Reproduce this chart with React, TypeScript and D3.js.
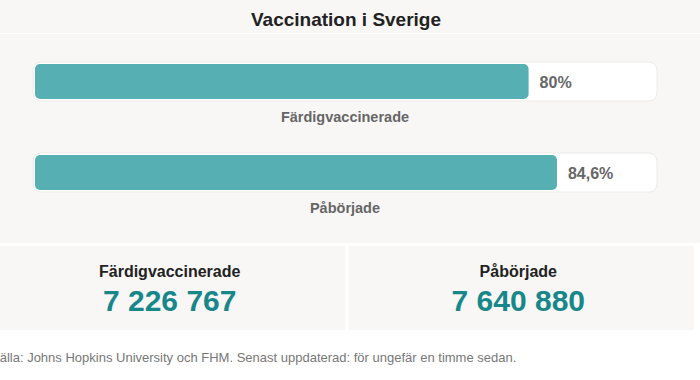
import React from "react";
import * as d3 from "d3";

const categories = ["Färdigvaccinerade", "Påbörjade"];
const percentValues = [80, 84.6];
const percentLabels = ["80%", "84,6%"];
const countValues = [7226767, 7640880];
const title = "Vaccination i Sverige";
const sourceText = "Källa: Johns Hopkins University och FHM. Senast uppdaterad: för ungefär en timme sedan.";

const W = 700;
const H = 380;
const FONT = "'Liberation Sans', Arial, Helvetica, sans-serif";

export default function App() {
  const x = d3.scaleLinear().domain([0, 100]).range([35, 652]);
  const rowY = d3.scaleOrdinal<string, number>().domain(categories).range([62, 153]);
  const boxX = d3.scaleBand().domain(categories).range([0, 694]).paddingInner(0.009);
  const fmt = (v: number) => d3.format(",")(v).replace(/,/g, " ");

  return (
    <svg width={W} height={H} style={{ position: "absolute", left: 0, top: 0, display: "block" }} fontFamily={FONT}>
      <rect x={0} y={0} width={W} height={H} fill="#ffffff" />
      <rect x={0} y={0} width={W} height={33} fill="#f8f7f5" />
      <text x={346} y={26} textAnchor="middle" fontSize={19} fontWeight="bold" fill="#222">{title}</text>
      <rect x={0} y={34} width={W} height={209} fill="#f8f7f6" />
      {categories.map((c, i) => {
        const y0 = rowY(c);
        return (
          <g key={c}>
            <rect x={33} y={y0} width={624} height={39} rx={8} fill="#ffffff" stroke="#ecebe9" strokeWidth={1} />
            <rect x={x(0)} y={y0 + 2} width={x(percentValues[i]) - x(0)} height={35} rx={5} fill="#56b0b3" />
            <text x={x(percentValues[i]) + 11} y={y0 + 26} fontSize={16} fontWeight="bold" fill="#666">{percentLabels[i]}</text>
            <text x={345} y={y0 + 60} textAnchor="middle" fontSize={14.5} fontWeight="bold" fill="#666">{c}</text>
          </g>
        );
      })}
      {categories.map((c, i) => {
        const bx = boxX(c) as number;
        const bw = boxX.bandwidth();
        const cx = bx + bw / 2;
        return (
          <g key={"box" + c}>
            <rect x={bx} y={246} width={bw} height={84} fill="#f8f7f6" />
            <text x={cx - 3} y={277} textAnchor="middle" fontSize={16} fontWeight="bold" fill="#222">{c}</text>
            <text x={cx - 3} y={311} textAnchor="middle" fontSize={30} fontWeight="bold" fill="#17878a">{fmt(countValues[i])}</text>
          </g>
        );
      })}
      <text x={-9} y={362} fontSize={13} fill="#777">{sourceText}</text>
    </svg>
  );
}
